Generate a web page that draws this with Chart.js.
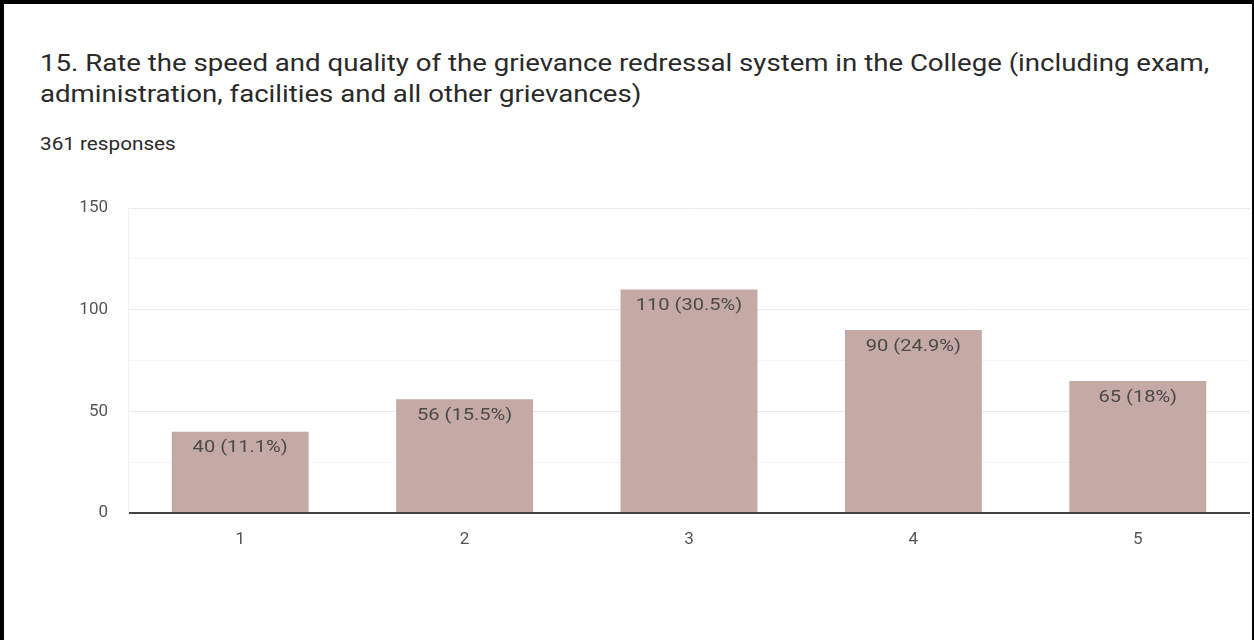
<!DOCTYPE html>
<html>
<head>
<meta charset="utf-8">
<script src="https://cdn.jsdelivr.net/npm/chart.js@4/dist/chart.umd.min.js"></script>
<style>
    html, body { margin: 0; padding: 0; background: #fff; }
    body { width: 1254px; height: 640px; overflow: hidden; position: relative; font-family: Roboto, "Noto Sans", sans-serif; }
    .frame {
        position: absolute; left: 0; top: 0; width: 1254px; height: 640px;
        box-sizing: border-box;
        border-left: 4px solid #000; border-top: 4px solid #000; border-right: 2px solid #000;
    }
    .title {
        position: absolute; left: 40px; top: 48px; width: 1050px;
        font-size: 24px; line-height: 31px; color: #2a2a2a;
        transform: scaleX(1.15); transform-origin: left top;
    }
    .subtitle {
        position: absolute; left: 40px; top: 135px;
        font-size: 18px; line-height: 18px; color: #2a2a2a;
        transform: scaleX(1.15); transform-origin: left top;
    }
    .chart-box { position: absolute; left: 0; top: 178px; width: 1254px; height: 382px; }
</style>
</head>
<body>
<div class="frame"></div>
<div class="title">15. Rate the speed and quality of the grievance redressal system in the College (including exam, administration, facilities and all other grievances)</div>
<div class="subtitle">361 responses</div>
<div class="chart-box"><canvas id="chart"></canvas></div>
<script>
// Values
const categories = ['1', '2', '3', '4', '5'];
const responses = [40, 56, 110, 90, 65];
const percentLabels = ['11.1%', '15.5%', '30.5%', '24.9%', '18%'];
const yTicks = [0, 50, 100, 150];

// Draws "N (P%)" inside the top of each bar, a bit stretched like the screenshot
const barLabels = {
    id: 'barLabels',
    afterDatasetsDraw(chart) {
        const ctx = chart.ctx;
        const meta = chart.getDatasetMeta(0);
        meta.data.forEach((bar, i) => {
            ctx.save();
            ctx.translate(bar.x, bar.y + 8);
            ctx.scale(1.18, 1);
            ctx.font = '17px Roboto, sans-serif';
            ctx.fillStyle = '#4a4a4a';
            ctx.textAlign = 'center';
            ctx.textBaseline = 'top';
            ctx.fillText(`${responses[i]} (${percentLabels[i]})`, 0, 0);
            ctx.restore();
        });
    }
};

new Chart(document.getElementById('chart'), {
    type: 'bar',
    data: {
        labels: categories,
        datasets: [{
            data: responses,
            backgroundColor: '#c5a9a4',
            borderWidth: 0,
            categoryPercentage: 1,
            barPercentage: 0.61
        }]
    },
    options: {
        responsive: true,
        maintainAspectRatio: false,
        animation: false,
        layout: { padding: { top: 8, right: 4, bottom: 0 } },
        plugins: {
            legend: { display: false },
            tooltip: { enabled: false }
        },
        scales: {
            x: {
                grid: { display: false },
                border: { display: false },
                afterFit: scale => { scale.height = 47; },
                ticks: { color: '#555', font: { family: 'Roboto', size: 17 }, padding: 9 }
            },
            y: {
                min: 0,
                max: 150,
                afterFit: scale => { scale.width = 128; },
                afterBuildTicks: scale => {
                    scale.ticks = [0, 25, 50, 75, 100, 125, 150].map(v => ({ value: v }));
                },
                grid: {
                    drawTicks: false,
                    color: c => c.tick.value === 0 ? '#444' : (c.tick.value % 50 === 0 ? '#ebebeb' : '#f5f5f5'),
                    lineWidth: c => c.tick.value === 0 ? 2 : 1
                },
                border: { display: true, color: '#f0f0f0' },
                ticks: {
                    color: '#555',
                    font: { family: 'Roboto', size: 17 },
                    padding: 20,
                    callback: v => yTicks.includes(v) ? v : ''
                }
            }
        }
    },
    plugins: [barLabels]
});
</script>
</body>
</html>
